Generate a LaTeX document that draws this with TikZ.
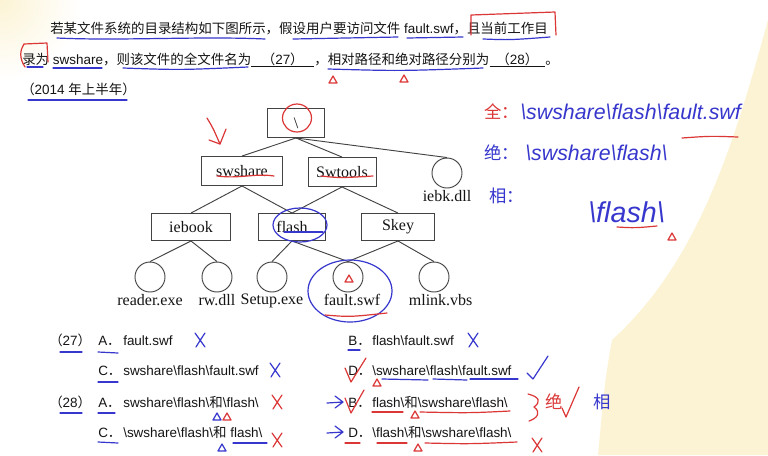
\documentclass[tikz,border=0pt]{standalone}
\usepackage{fontspec}
\setmainfont{Liberation Sans}
\newfontfamily\cjk{Noto Sans CJK SC}
\newfontfamily\tfont{Liberation Serif}
\newcommand{\bsl}{\textbackslash}
\definecolor{ink}{RGB}{20,20,20}
\definecolor{penblue}{RGB}{55,55,205}
\definecolor{penred}{RGB}{220,55,55}
\definecolor{paper}{RGB}{252,243,212}
\tikzset{
  txt/.style={inner sep=0pt, text=ink, font=\fontsize{10.1}{12}\selectfont},
  dirbox/.style={draw=ink!80, line width=0.7pt, minimum height=21.75pt, inner sep=0pt, text=ink, font=\tfont\fontsize{12}{14}\selectfont},
  leaf/.style={circle, draw=ink!80, line width=0.7pt, minimum size=22.5pt, inner sep=0pt},
  fname/.style={inner sep=1pt, text=ink, font=\tfont\fontsize{12}{14}\selectfont},
  treeline/.style={draw=ink!80, line width=0.7pt},
  bluepen/.style={penblue, line width=0.9pt, line cap=round, line join=round},
  redpen/.style={penred, line width=0.9pt, line cap=round, line join=round},
  hand/.style={inner sep=0pt, font=\fontsize{13}{15}\selectfont},
  penTri/.pic={\draw (-4,3) -- (0,-4) -- (4,3) -- cycle;},
  penCross/.pic={\draw (-5,-7) -- (5,7) (5,-7) .. controls (1,-1) .. (-4,7);},
}
\begin{document}
\begin{tikzpicture}[x=0.75pt, y=-0.75pt]
		\useasboundingbox (0,0) rectangle (768,455);
		\fill[white] (0,0) rectangle (768,455);
		\shade[inner color=paper, outer color=white] (0,0) circle (80);
		\fill[paper] (768,20) .. controls (735,140) and (700,260) .. (612,340) .. controls (605,380) .. (598,455) -- (768,455) -- cycle;
		% question text
		\node (q1)[txt, anchor = base west] at (50,33) {{\cjk 若某文件系统的目录结构如下图所示，假设用户要访问文件}\ fault.swf{\cjk ，且当前工作目}};
		\node (q2a)[txt, anchor = base west] at (22,64) {{\cjk 录为}\ swshare{\cjk ，则该文件的全文件名为}};
		\node (n27)[txt, anchor = base west, minimum width=46.5pt] at (q2a.base east) {{\cjk （}27{\cjk ）}};
		\node (q2b)[txt, anchor = base west] at (n27.base east) {\cjk ，相对路径和绝对路径分别为};
		\node (n28)[txt, anchor = base west, minimum width=41.25pt] at (q2b.base east) {{\cjk （}28{\cjk ）}};
		\node (q2c)[txt, anchor = base west] at (n28.base east) {\cjk 。};
		\draw [ink, line width=0.6pt]([yshift=-1.5pt]n27.base west)--([yshift=-1.5pt]n27.base east);
		\draw [ink, line width=0.6pt]([yshift=-1.5pt]n28.base west)--([yshift=-1.5pt]n28.base east);
		\node (q3)[txt, anchor = base west] at (21,94) {{\cjk （}2014\ {\cjk 年上半年）}};
		%
		\node (root)[dirbox, minimum width=42.75pt] at (296,123) {\bsl};
		\node (swshare)[dirbox, minimum width=60.75pt] at (242,171) {swshare};
		\node (swtools)[dirbox, minimum width=51pt] at (342,172) {Swtools};
		\node (iebk)[leaf] at (447,173) {};
		\node (iebkl)[fname, anchor = north] at (iebk.south) {iebk.dll};
		\node (iebook)[dirbox, minimum width=59.25pt, minimum height=20.25pt] at (191,227) {iebook};
		\node (flash)[dirbox, minimum width=50.25pt, minimum height=20.25pt] at (292,227) {flash};
		\node (skey)[dirbox, minimum width=54.75pt, minimum height=20.25pt] at (398,227) {Skey};
		\node (reader)[leaf] at (150,277) {};
		\node (rwdll)[leaf] at (217,277) {};
		\node (setup)[leaf] at (272,277) {};
		\node (fault)[leaf] at (348,277) {};
		\node (mlink)[leaf] at (434,277) {};
		\node (readerl)[fname, anchor = north] at (reader.south) {reader.exe};
		\node (rwdlll)[fname, anchor = north] at (rwdll.south) {rw.dll};
		\node (setupl)[fname, anchor = north] at (setup.south) {Setup.exe};
		\node (faultl)[fname, anchor = north] at ([xshift=3pt]fault.south) {fault.swf};
		\node (mlinkl)[fname, anchor = north] at ([xshift=5pt]mlink.south) {mlink.vbs};
		\draw [treeline](root.south)--(swshare.north);
		\draw [treeline](root.south)--(swtools.north);
		\draw [treeline](root.south)--(iebk.north);
		\draw [treeline](swshare.south)--(iebook.north);
		\draw [treeline](swshare.south)--(flash.north);
		\draw [treeline](swtools.south)--(flash.north);
		\draw [treeline](swtools.south)--(skey.north);
		\draw [treeline](iebook.south)--(reader.north);
		\draw [treeline](iebook.south)--(rwdll.north);
		\draw [treeline](flash.south)--(setup.north);
		\draw [treeline](flash.south)--(fault.north);
		\draw [treeline](skey.south)--(fault.north);
		\draw [treeline](skey.south)--(mlink.north);
		%
		\node (o27)[txt, anchor = base west] at (49,345) {{\cjk （}27{\cjk ）}};
		\node (oa)[txt, anchor = base west] at (98,345) {A{\cjk ．}};
		\node (oat)[txt, anchor = base west] at (123,345) {fault.swf};
		\node (ob)[txt, anchor = base west] at (348,345) {B{\cjk ．}};
		\node (obt)[txt, anchor = base west] at (372,345) {flash\bsl fault.swf};
		\node (oc)[txt, anchor = base west] at (98,375) {C{\cjk ．}};
		\node (oct)[txt, anchor = base west] at (123,375) {swshare\bsl flash\bsl fault.swf};
		\node (od)[txt, anchor = base west] at (348,375) {D{\cjk ．}};
		\node (odt)[txt, anchor = base west] at (372,375) {\bsl swshare\bsl flash\bsl fault.swf};
		\node (o28)[txt, anchor = base west] at (49,407) {{\cjk （}28{\cjk ）}};
		\node (pa)[txt, anchor = base west] at (98,407) {A{\cjk ．}};
		\node (pat)[txt, anchor = base west] at (123,407) {swshare\bsl flash\bsl{\cjk 和}\bsl flash\bsl};
		\node (pb)[txt, anchor = base west] at (348,407) {B{\cjk ．}};
		\node (pbt)[txt, anchor = base west] at (372,407) {flash\bsl{\cjk 和}\bsl swshare\bsl flash\bsl};
		\node (pc)[txt, anchor = base west] at (98,437) {C{\cjk ．}};
		\node (pct)[txt, anchor = base west] at (123,437) {\bsl swshare\bsl flash\bsl{\cjk 和}\ flash\bsl};
		\node (pd)[txt, anchor = base west] at (348,437) {D{\cjk ．}};
		\node (pdt)[txt, anchor = base west] at (372,437) {\bsl flash\bsl{\cjk 和}\bsl swshare\bsl flash\bsl};
		% handwritten notes
		\node (hq)[hand, penred, anchor = west] at (484,112) {\cjk 全：};
		\node (hqt)[hand, penblue, anchor = west, font=\itshape\fontsize{16}{18}\selectfont] at (520,112) {\bsl swshare\bsl flash\bsl fault.swf};
		\node (hj)[hand, penblue, anchor = west] at (484,153) {\cjk 绝：};
		\node (hjt)[hand, penblue, anchor = west, font=\itshape\fontsize{16}{18}\selectfont] at (525,153) {\bsl swshare\bsl flash\bsl};
		\node (hx)[hand, penblue, anchor = west] at (489,196) {\cjk 相：};
		\node (hxt)[hand, penblue, anchor = west, font=\itshape\fontsize{21.5}{24}\selectfont] at (588,212) {\bsl flash\bsl};
		\node (hjue)[hand, penred, anchor = west] at (545,402) {\cjk 绝};
		\node (hxiang)[hand, penblue, anchor = west] at (593,402) {\cjk 相};
		% pen marks on the text
		\draw [bluepen](57,38) .. controls (120,41) and (200,36) .. (265,39);
		\draw [bluepen](293,39)--(398,37);
		\draw [bluepen](407,38)--(463,37);
		\draw [bluepen](483,39) .. controls (510,40) .. (550,37);
		\draw [redpen](471,35)--(471,15)--(555,12)--(556,35);
		\draw [redpen](25,67) .. controls (19,58) and (20,50) .. (24,44)--(47,43)--(48,62);
		\draw [bluepen](27,67)--(43,67);
		\draw [bluepen](53,68)--(102,68);
		\draw [bluepen](123,68) .. controls (180,70) .. (248,67);
		\draw [bluepen](328,69) .. controls (400,71) .. (483,68);
		\pic [redpen] at (333,80) {penTri};
		\pic [redpen] at (404,79) {penTri};
		\draw [bluepen](28,100)--(127,100);
		% pen marks on the tree
		\draw [redpen](297,118) ellipse [x radius=14.5, y radius=14];
		\draw [redpen](207,118) .. controls (213,128) .. (220,144);
		\draw [redpen](209,140)--(220,144)--(226,129);
		\draw [redpen](217,176) .. controls (240,179) and (255,173) .. (274,176);
		\draw [redpen](321,176) .. controls (340,178) .. (373,176);
		\draw [bluepen](300,225) ellipse [x radius=27, y radius=17];
		\draw [bluepen](284,232)--(323,232);
		\draw [bluepen](350,291) ellipse [x radius=42, y radius=31];
		\draw [redpen](325,315) .. controls (350,317) .. (387,313);
		\pic [redpen] at (349,279) {penTri};
		% pen marks on the options
		\draw [bluepen](60,352)--(82,352);
		\draw [bluepen](98,352)--(118,353);
		\draw [bluepen](98,382)--(118,382);
		\draw [bluepen](60,413)--(82,413);
		\draw [bluepen](98,413)--(115,413);
		\draw [bluepen](98,442)--(118,443);
		\draw [bluepen](233,443)--(267,443);
		\pic [bluepen] at (200,340) {penCross};
		\pic [bluepen] at (275,370) {penCross};
		\pic [redpen] at (277,402) {penCross};
		\pic [redpen] at (277,440) {penCross};
		\pic [bluepen] at (217,417) {penTri};
		\pic [redpen] at (227,417) {penTri};
		\pic [bluepen] at (222,448) {penTri};
		\draw [bluepen](327,403)--(343,402) (335,396)--(343,402)--(335,408);
		\draw [bluepen](327,433)--(343,432) (335,426)--(343,432)--(335,438);
		\draw [bluepen](348,350)--(360,350);
		\pic [bluepen] at (473,340) {penCross};
		\draw [redpen](345,368)--(351,382)--(366,358);
		\pic [redpen] at (377,383) {penTri};
		\draw [bluepen](382,379)--(428,380);
		\draw [bluepen](433,379)--(467,380);
		\draw [bluepen](470,379)--(518,379);
		\draw [bluepen](527,373)--(533,379)--(548,356);
		\draw [redpen](345,398)--(351,413)--(364,390);
		\draw [redpen](372,412)--(403,412);
		\draw [redpen](420,412) .. controls (470,413) .. (510,411);
		\pic [redpen] at (415,415) {penTri};
		\draw [redpen](528,394) .. controls (540,397) and (541,402) .. (534,407) .. controls (541,412) and (538,418) .. (529,421);
		\draw [redpen](562,408)--(566,417)--(579,387);
		\draw [redpen](345,443)--(360,443);
		\draw [redpen](377,443)--(407,443);
		\pic [redpen] at (418,448) {penTri};
		\draw [redpen](425,443) .. controls (470,444) .. (517,442);
		\pic [redpen] at (537,445) {penCross};
		% pen marks on the notes
		\draw [redpen](682,138) .. controls (710,136) .. (738,137);
		\draw [redpen](617,227) .. controls (635,228) .. (657,226);
		\pic [redpen] at (672,237) {penTri};
	\end{tikzpicture}
\end{document}
